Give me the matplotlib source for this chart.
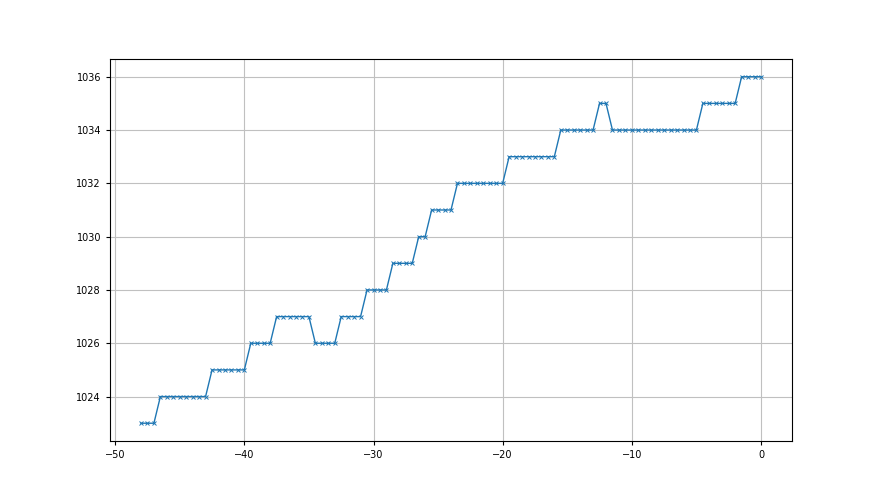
import matplotlib
matplotlib.use("Agg")
import matplotlib.pyplot as plt

x_values = [-48.0, -47.5, -47.0, -46.5, -46.0, -45.5, -45.0, -44.5, -44.0, -43.5,
            -43.0, -42.5, -42.0, -41.5, -41.0, -40.5, -40.0, -39.5, -39.0, -38.5,
            -38.0, -37.5, -37.0, -36.5, -36.0, -35.5, -35.0, -34.5, -34.0, -33.5,
            -33.0, -32.5, -32.0, -31.5, -31.0, -30.5, -30.0, -29.5, -29.0, -28.5,
            -28.0, -27.5, -27.0, -26.5, -26.0, -25.5, -25.0, -24.5, -24.0, -23.5,
            -23.0, -22.5, -22.0, -21.5, -21.0, -20.5, -20.0, -19.5, -19.0, -18.5,
            -18.0, -17.5, -17.0, -16.5, -16.0, -15.5, -15.0, -14.5, -14.0, -13.5,
            -13.0, -12.5, -12.0, -11.5, -11.0, -10.5, -10.0, -9.5, -9.0, -8.5,
            -8.0, -7.5, -7.0, -6.5, -6.0, -5.5, -5.0, -4.5, -4.0, -3.5,
            -3.0, -2.5, -2.0, -1.5, -1.0, -0.5, 0.0]

pressure = [1023, 1023, 1023,
            1024, 1024, 1024, 1024, 1024, 1024, 1024, 1024,
            1025, 1025, 1025, 1025, 1025, 1025,
            1026, 1026, 1026, 1026,
            1027, 1027, 1027, 1027, 1027, 1027,
            1026, 1026, 1026, 1026,
            1027, 1027, 1027, 1027,
            1028, 1028, 1028, 1028,
            1029, 1029, 1029, 1029,
            1030, 1030,
            1031, 1031, 1031, 1031,
            1032, 1032, 1032, 1032, 1032, 1032, 1032, 1032,
            1033, 1033, 1033, 1033, 1033, 1033, 1033, 1033,
            1034, 1034, 1034, 1034, 1034, 1034,
            1035, 1035,
            1034, 1034, 1034, 1034, 1034, 1034, 1034, 1034, 1034, 1034, 1034, 1034, 1034, 1034,
            1035, 1035, 1035, 1035, 1035, 1035,
            1036, 1036, 1036, 1036]

fig, ax = plt.subplots(figsize=(8.8, 4.95), dpi=100)
fig.subplots_adjust(left=0.125, right=0.9, top=0.88, bottom=0.11)
ax.plot(x_values, pressure, marker="x", color="#1f77b4", linewidth=1.0,
        markersize=3.5, markeredgewidth=0.7)
ax.grid(True, color="#c0c0c0", linewidth=0.8)
ax.set_axisbelow(True)
ax.set_xticks([-50, -40, -30, -20, -10, 0])
ax.set_yticks([1024, 1026, 1028, 1030, 1032, 1034, 1036])
ax.tick_params(labelsize=7, length=3, width=0.8)
for s in ax.spines.values():
    s.set_linewidth(0.8)
fig.savefig("out.png", dpi=100)
